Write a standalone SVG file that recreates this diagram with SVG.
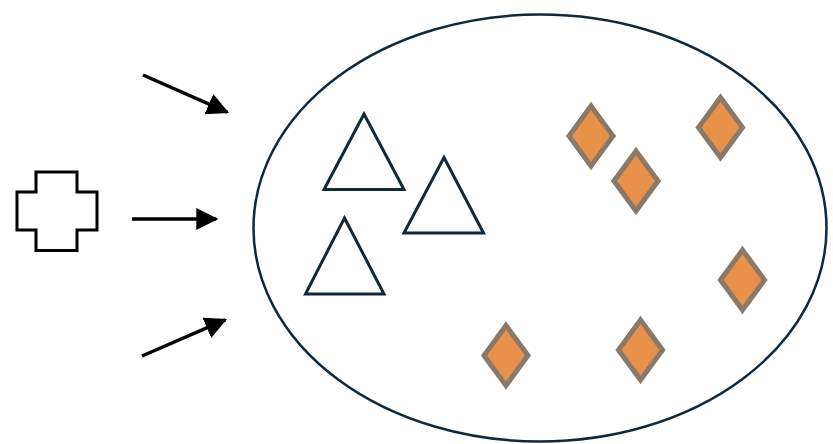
<svg xmlns="http://www.w3.org/2000/svg" xmlns:xlink="http://www.w3.org/1999/xlink" width="833" height="444" viewBox="0 0 833 444">
<style>
.set{fill:none;stroke:#10293a;stroke-width:2.5}
.tri{fill:#ffffff;stroke:#10293a;stroke-width:3;stroke-linejoin:miter}
.dia{fill:#e8914b;stroke:#8a7968;stroke-width:5;stroke-linejoin:miter}
.cross{fill:#ffffff;stroke:#000000;stroke-width:3}
.arrow{stroke:#000000;stroke-width:3.5;fill:none}
</style>
<defs>
<marker id="ah" markerUnits="userSpaceOnUse" markerWidth="24" markerHeight="24" refX="20" refY="11" orient="auto">
<path d="M0,0 L22,11 L0,22 z" fill="#000000"/>
</marker>
<path id="diamond" d="M0,-30 L22,0 L0,30 L-22,0 z"/>
</defs>
<rect width="833" height="444" fill="#ffffff"/>
<g id="set"><ellipse class="set" cx="540" cy="228" rx="286.5" ry="213.5"/></g>
<g id="cross"><path class="cross" d="M36,172 L77,172 L77,192 L97,192 L97,230 L77,230 L77,250.5 L36,250.5 L36,230 L17,230 L17,192 L36,192 z"/></g>
<g id="connectors">
<line class="arrow" x1="143" y1="75" x2="227.2" y2="112.2" marker-end="url(#ah)"/>
<line class="arrow" x1="132" y1="219" x2="216.3" y2="219" marker-end="url(#ah)"/>
<line class="arrow" x1="142" y1="356" x2="225.2" y2="319.9" marker-end="url(#ah)"/>
</g>
<g id="triangle1"><polygon class="tri" points="364,114 404,189.5 324,189.5"/></g>
<g id="triangle2"><polygon class="tri" points="444,157.5 483.5,233 404,233"/></g>
<g id="triangle3"><polygon class="tri" points="344.5,218 384,294 305.5,294"/></g>
<g id="diamond1"><use xlink:href="#diamond" class="dia" x="591" y="136"/></g>
<g id="diamond2"><use xlink:href="#diamond" class="dia" x="636" y="181"/></g>
<g id="diamond3"><use xlink:href="#diamond" class="dia" x="720.5" y="127.5"/></g>
<g id="diamond4"><use xlink:href="#diamond" class="dia" x="742.5" y="280"/></g>
<g id="diamond5"><use xlink:href="#diamond" class="dia" x="506" y="355.5"/></g>
<g id="diamond6"><use xlink:href="#diamond" class="dia" x="640.5" y="350"/></g>
</svg>
